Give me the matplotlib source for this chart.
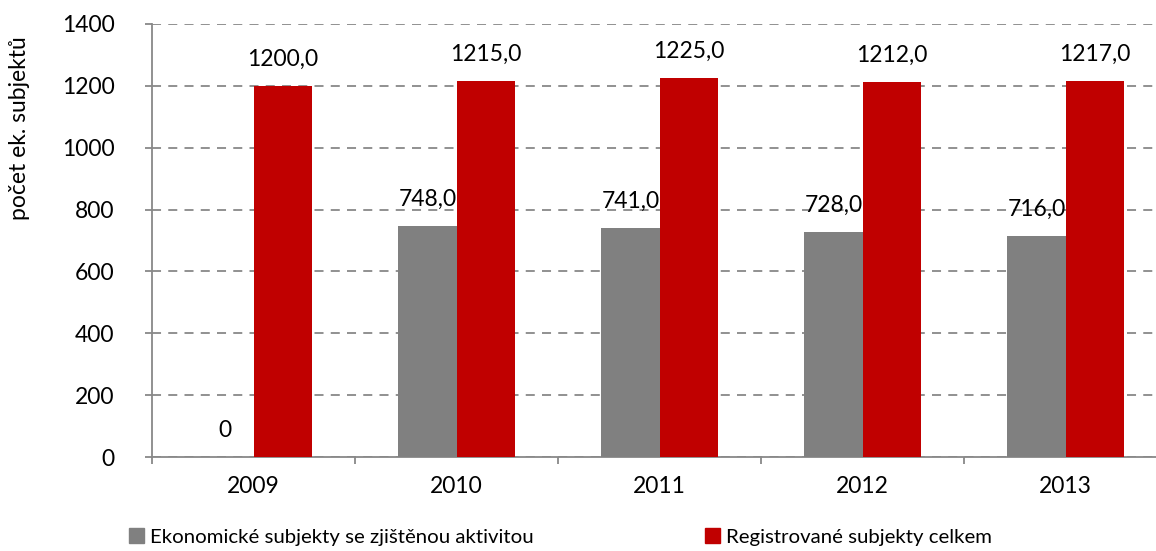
import matplotlib
matplotlib.use("Agg")
import matplotlib.pyplot as plt
from matplotlib.patches import Patch
import numpy as np

years = ["2009", "2010", "2011", "2012", "2013"]
econ_active = [0, 748, 741, 728, 716]
registered = [1200, 1215, 1225, 1212, 1217]
series_names = ["Ekonomické subjekty se zjištěnou aktivitou", "Registrované subjekty celkem"]
y_label = "počet ek. subjektů"
colors = ["#808080", "#C00000"]

plt.rcParams['font.family'] = ['Lato', 'DejaVu Sans']
FS = 16.5

fig = plt.figure(figsize=(11.56, 5.51), dpi=100)
ax = fig.add_axes([152/1156, 94/551, 1015/1156, 433/551])

x = np.arange(len(years))
w = 0.286
b1 = ax.bar(x - w/2, econ_active, width=w, color=colors[0], zorder=3)
b2 = ax.bar(x + w/2, registered, width=w, color=colors[1], zorder=3)

def fmt(v):
    return "0" if v == 0 else f"{v:.1f}".replace(".", ",")

for bars, vals in ((b1, econ_active), (b2, registered)):
    for r, v in zip(bars, vals):
        ax.annotate(fmt(v), (r.get_x() + r.get_width()/2, r.get_height()),
                    xytext=(0, 19), textcoords="offset points",
                    ha="center", va="center", fontsize=FS, color="black", zorder=4)

ax.set_xlim(-0.5, len(years) - 0.5)
ax.set_ylim(0, 1400)
ax.set_yticks(range(0, 1401, 200))
ax.set_yticklabels([str(v) for v in range(0, 1401, 200)], fontsize=FS)
ax.set_xticks(x)
ax.set_xticklabels(years, fontsize=FS)
ax.set_xticks(np.arange(-0.5, len(years), 1.0), minor=True)
ax.tick_params(axis="x", which="major", length=0, pad=14)
ax.tick_params(axis="x", which="minor", length=5, width=1.3, color="#888888")
ax.tick_params(axis="y", length=5, width=1.3, color="#888888", pad=22)

ax.grid(axis="y", linestyle=(0, (5, 4)), color="#888888", linewidth=1.3, zorder=0)
for s in ("top", "right"):
    ax.spines[s].set_visible(False)
for s in ("left", "bottom"):
    ax.spines[s].set_color("#888888")
    ax.spines[s].set_linewidth(1.3)

fig.text(20/1156, 1 - 128/551, y_label, rotation=90, ha="center", va="center", fontsize=FS)

handles = [Patch(color=c) for c in colors]
fig.legend(handles, series_names, loc="center left", bbox_to_anchor=(129/1156, 1 - 537/551),
           ncol=2, frameon=False, fontsize=14.7, handlelength=0.75, handleheight=0.75,
           handletextpad=0.3, columnspacing=8.35, borderaxespad=0, borderpad=0)

fig.savefig("out.png", dpi=100)
